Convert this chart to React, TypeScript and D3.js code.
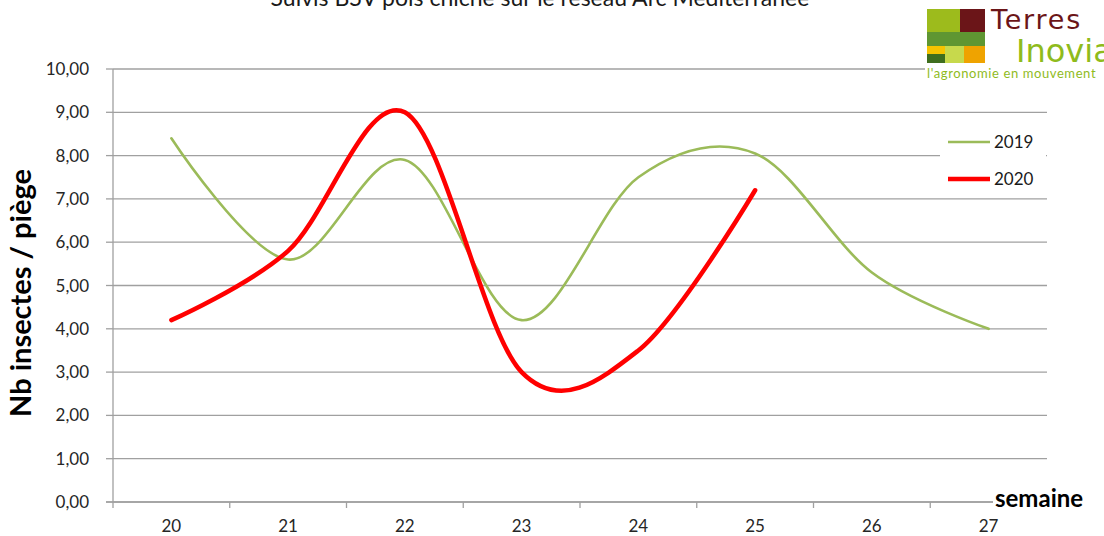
import React from "react";
import * as d3 from "d3";

const weeks = ["20", "21", "22", "23", "24", "25", "26", "27"];
const values2019 = [8.4, 5.6, 7.9, 4.2, 7.5, 8.05, 5.3, 4.0];
const values2020 = [4.2, 5.8, 9.0, 3.0, 3.5, 7.2];
const yTicks = [0, 1, 2, 3, 4, 5, 6, 7, 8, 9, 10];
const seriesNames = ["2019", "2020"];
const seriesColors = ["#9bbb59", "#ff0000"];

const W = 1104;
const H = 536;
const left = 113;
const right = 1047;
const top = 69;
const bottom = 502;
const FONT = "Lato, 'Open Sans', sans-serif";
const LOGO_FONT = "'DejaVu Sans', sans-serif";

export default function App() {
  const x = d3.scaleBand<string>().domain(weeks).range([left, right]);
  const y = d3.scaleLinear().domain([0, 10]).range([bottom, top]);
  const cx = (w: string) => (x(w) as number) + x.bandwidth() / 2;
  const line = d3
    .line<number>()
    .x((_, i) => cx(weeks[i]))
    .y((d) => y(d))
    .curve(d3.curveCardinal.tension(0));
  const fmt = (v: number) => v.toFixed(2).replace(".", ",");
  const boundaries = weeks.map((w) => x(w) as number);

  return (
    <svg
      width={W}
      height={H}
      style={{ position: "absolute", left: 0, top: 0, background: "#fff" }}
      fontFamily={FONT}
    >
      <rect x={0} y={0} width={W} height={H} fill="#fff" />
      {/* title (partially cut off) */}
      <text x={540} y={6} textAnchor="middle" fontSize={23} fill="#1a1a1a">
        Suivis BSV pois chiche sur le réseau Arc Méditerranée
      </text>
      {/* gridlines */}
      {yTicks.map((t) => (
        <line key={t} x1={left} x2={right} y1={y(t)} y2={y(t)} stroke="#a0a0a0" strokeWidth={1.3} />
      ))}
      {/* y axis */}
      <line x1={left} x2={left} y1={top} y2={bottom} stroke="#a0a0a0" strokeWidth={1.3} />
      {yTicks.map((t) => (
        <g key={"yt" + t}>
          <line x1={left - 7} x2={left} y1={y(t)} y2={y(t)} stroke="#a0a0a0" strokeWidth={1.3} />
          <text x={89} y={y(t) + 6} textAnchor="end" fontSize={17} fill="#262626">
            {fmt(t)}
          </text>
        </g>
      ))}
      {/* x axis */}
      <line x1={left - 7} x2={right} y1={bottom} y2={bottom} stroke="#a0a0a0" strokeWidth={1.3} />
      {boundaries.map((b, i) => (
        <line key={"xt" + i} x1={b} x2={b} y1={bottom} y2={bottom + 6} stroke="#a0a0a0" strokeWidth={1.3} />
      ))}
      {weeks.map((w) => (
        <text key={"xl" + w} x={cx(w)} y={532} textAnchor="middle" fontSize={17} fill="#262626">
          {w}
        </text>
      ))}
      {/* series */}
      <path d={line(values2019) || ""} fill="none" stroke={seriesColors[0]} strokeWidth={2.6} strokeLinecap="round" />
      <path d={line(values2020) || ""} fill="none" stroke={seriesColors[1]} strokeWidth={4.5} strokeLinecap="round" />
      {/* y title */}
      <text
        transform={`translate(31,293) rotate(-90)`}
        textAnchor="middle"
        fontSize={29}
        fontWeight="bold"
        fill="#000"
      >
        Nb insectes / piège
      </text>
      {/* semaine label */}
      <rect x={993} y={484} width={111} height={28} fill="#fff" />
      <text x={995} y={507} fontSize={24} fontWeight="bold" fill="#000">
        semaine
      </text>
      {/* legend */}
      <rect x={940} y={124} width={106} height={70} fill="#fff" />
      {seriesNames.map((n, i) => (
        <g key={n}>
          <line
            x1={948}
            x2={990}
            y1={142 + i * 37}
            y2={142 + i * 37}
            stroke={seriesColors[i]}
            strokeWidth={i === 0 ? 2.6 : 4.5}
          />
          <text x={994} y={148 + i * 37} fontSize={17} fill="#1a1a1a">
            {n}
          </text>
        </g>
      ))}
      {/* logo */}
      <rect x={925} y={0} width={179} height={86} fill="#fff" />
      <rect x={927} y={9} width={33} height={23} fill="#9dbb1c" />
      <rect x={960} y={9} width={25} height={23} fill="#6b1518" />
      <rect x={927} y={32} width={58} height={14} fill="#5f9632" />
      <rect x={927} y={46} width={18} height={8} fill="#f5c400" />
      <rect x={927} y={54} width={18} height={9} fill="#3f6e1e" />
      <rect x={945} y={46} width={19} height={17} fill="#c7d94c" />
      <rect x={964} y={46} width={21} height={17} fill="#efa300" />
      <text x={991} y={29} fontSize={27} fill="#6b1518" fontFamily={LOGO_FONT} letterSpacing={1.8}>
        Terres
      </text>
      <text x={1016} y={62} fontSize={32} fill="#8fbb1c" fontFamily={LOGO_FONT}>
        Inovia
      </text>
      <text x={927} y={78} fontSize={13} fill="#8fbb1c" fontFamily={FONT} letterSpacing={0.6}>
        l'agronomie en mouvement
      </text>
    </svg>
  );
}
